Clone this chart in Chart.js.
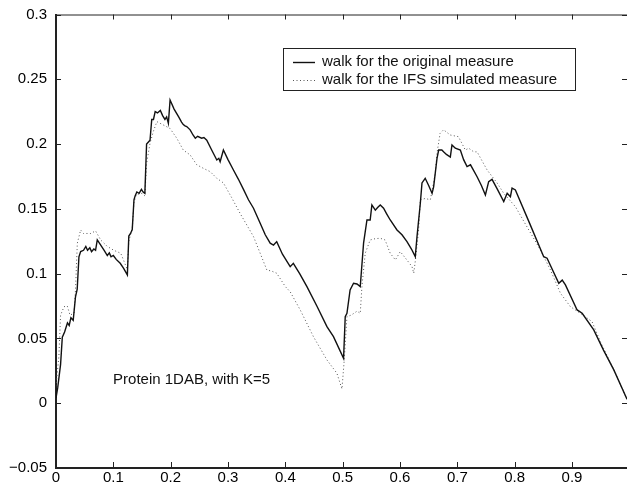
<!DOCTYPE html>
<html>
<head>
<meta charset="utf-8">
<script src="https://cdn.jsdelivr.net/npm/chart.js@4"></script>
<style>
  html, body { margin: 0; padding: 0; background: #fff; }
  canvas { display: block; }
</style>
</head>
<body>
<canvas id="walkChart" width="627" height="486"></canvas>
<script>
// walk for the original measure
const xOrig = [0.000, 0.003, 0.008, 0.011, 0.015, 0.020, 0.023, 0.026, 0.030, 0.034, 0.037, 0.040, 0.043, 0.048, 0.052, 0.055, 0.059, 0.062, 0.066, 0.069,
  0.072, 0.078, 0.084, 0.0895, 0.093, 0.096, 0.100, 0.105, 0.112, 0.118, 0.1245, 0.127, 0.130, 0.133, 0.136, 0.138, 0.141, 0.145, 0.149, 0.152,
  0.155, 0.158, 0.162, 0.164, 0.167, 0.170, 0.173, 0.177, 0.182, 0.186, 0.190, 0.193, 0.196, 0.199, 0.206, 0.214, 0.219, 0.222, 0.225, 0.228,
  0.234, 0.239, 0.243, 0.247, 0.254, 0.258, 0.263, 0.272, 0.2805, 0.284, 0.2863, 0.292, 0.300, 0.3095, 0.318, 0.327, 0.3357, 0.3445, 0.355, 0.365,
  0.3736, 0.3794, 0.385, 0.395, 0.4085, 0.414, 0.425, 0.4377, 0.455, 0.4726, 0.484, 0.5016, 0.5045, 0.5075, 0.513, 0.519, 0.525, 0.5307, 0.5365, 0.5424,
  0.548, 0.551, 0.557, 0.561, 0.5656, 0.5714, 0.577, 0.583, 0.5948, 0.6035, 0.6122, 0.620, 0.6267, 0.6297, 0.6355, 0.6384, 0.644, 0.650, 0.656, 0.6587,
  0.6646, 0.6675, 0.673, 0.676, 0.681, 0.6878, 0.6907, 0.6965, 0.7053, 0.711, 0.717, 0.723, 0.7345, 0.742, 0.749, 0.7547, 0.7606, 0.770, 0.781, 0.787,
  0.7926, 0.7955, 0.8013, 0.826, 0.8507, 0.8566, 0.877, 0.883, 0.8886, 0.909, 0.9178, 0.938, 0.955, 0.973, 0.996];
const yOrig = [0.004, 0.012, 0.030, 0.051, 0.055, 0.062, 0.060, 0.066, 0.064, 0.082, 0.088, 0.113, 0.117, 0.118, 0.121, 0.118, 0.120, 0.117, 0.119, 0.118,
  0.126, 0.122, 0.118, 0.114, 0.116, 0.113, 0.114, 0.111, 0.108, 0.104, 0.099, 0.129, 0.131, 0.134, 0.157, 0.160, 0.163, 0.162, 0.165, 0.163,
  0.162, 0.200, 0.202, 0.203, 0.219, 0.219, 0.225, 0.224, 0.226, 0.222, 0.219, 0.221, 0.216, 0.234, 0.227, 0.221, 0.217, 0.215, 0.214, 0.2135,
  0.211, 0.207, 0.2045, 0.206, 0.2045, 0.205, 0.203, 0.195, 0.1877, 0.189, 0.1864, 0.1954, 0.188, 0.180, 0.173, 0.165, 0.157, 0.1505, 0.140, 0.130,
  0.1235, 0.1221, 0.1247, 0.115, 0.1054, 0.108, 0.100, 0.090, 0.075, 0.0591, 0.0514, 0.0347, 0.0668, 0.0694, 0.0874, 0.0926, 0.092, 0.090, 0.1235, 0.1414,
  0.1414, 0.153, 0.149, 0.151, 0.153, 0.1505, 0.146, 0.1414, 0.1337, 0.130, 0.1247, 0.119, 0.1131, 0.1286, 0.1543, 0.170, 0.1736, 0.168, 0.162, 0.167,
  0.189, 0.1954, 0.1954, 0.194, 0.192, 0.190, 0.1993, 0.1968, 0.1954, 0.188, 0.1826, 0.184, 0.1748, 0.168, 0.1607, 0.171, 0.1728, 0.165, 0.1556, 0.162,
  0.1594, 0.166, 0.1646, 0.139, 0.1131, 0.1119, 0.0926, 0.095, 0.0913, 0.072, 0.0694, 0.0566, 0.041, 0.0257, 0.003];

// walk for the IFS simulated measure
const xIfs = [0.000, 0.005, 0.008, 0.014, 0.0197, 0.0244, 0.0314, 0.034, 0.0372, 0.043, 0.048, 0.052, 0.0606, 0.069, 0.078, 0.0895, 0.101, 0.113, 0.1245, 0.127,
  0.133, 0.136, 0.140, 0.150, 0.155, 0.158, 0.164, 0.170, 0.176, 0.187, 0.199, 0.2107, 0.222, 0.234, 0.2456, 0.257, 0.269, 0.2805, 0.292, 0.306,
  0.321, 0.3445, 0.3678, 0.376, 0.385, 0.400, 0.4085, 0.426, 0.449, 0.4726, 0.490, 0.4988, 0.5028, 0.5075, 0.515, 0.525, 0.5307, 0.5336, 0.5394, 0.548,
  0.557, 0.5656, 0.574, 0.583, 0.592, 0.6005, 0.612, 0.621, 0.624, 0.627, 0.6325, 0.6355, 0.644, 0.653, 0.6617, 0.6646, 0.670, 0.676, 0.6878, 0.702,
  0.714, 0.720, 0.7286, 0.7345, 0.752, 0.7694, 0.781, 0.8013, 0.823, 0.845, 0.8624, 0.8799, 0.8973, 0.9148, 0.935, 0.950, 0.973, 0.996];
const yIfs = [0.013, 0.036, 0.068, 0.0745, 0.075, 0.068, 0.0694, 0.0874, 0.1235, 0.1337, 0.131, 0.131, 0.131, 0.133, 0.126, 0.121, 0.118, 0.1157, 0.103, 0.125,
  0.135, 0.155, 0.161, 0.162, 0.160, 0.185, 0.2006, 0.210, 0.2173, 0.2148, 0.212, 0.2045, 0.1954, 0.1916, 0.184, 0.1813, 0.1787, 0.1736, 0.170, 0.159,
  0.1466, 0.1286, 0.1028, 0.102, 0.1003, 0.090, 0.086, 0.072, 0.0514, 0.0334, 0.0231, 0.011, 0.0334, 0.0668, 0.068, 0.071, 0.0694, 0.090, 0.1157, 0.126,
  0.127, 0.1273, 0.126, 0.1157, 0.1106, 0.117, 0.1106, 0.1054, 0.1003, 0.1106, 0.1337, 0.157, 0.158, 0.157, 0.1775, 0.193, 0.2083, 0.211, 0.207, 0.2057,
  0.1954, 0.1968, 0.194, 0.194, 0.180, 0.170, 0.162, 0.1517, 0.135, 0.1183, 0.1029, 0.0849, 0.0745, 0.0694, 0.063, 0.047, 0.026, 0.003];

const xTickValues = [0, 0.1, 0.2, 0.3, 0.4, 0.5, 0.6, 0.7, 0.8, 0.9];
const xTickLabels = ['0', '0.1', '0.2', '0.3', '0.4', '0.5', '0.6', '0.7', '0.8', '0.9'];
const yTickValues = [-0.05, 0, 0.05, 0.1, 0.15, 0.2, 0.25, 0.3];
const yTickLabels = ['\u22120.05', '0', '0.05', '0.1', '0.15', '0.2', '0.25', '0.3'];

const annotation = { x: 0.0995, y: 0.018, text: 'Protein 1DAB, with K=5' };

const FONT = '"Liberation Sans", Arial, Helvetica, sans-serif';

function toPoints(xs, ys) {
  return xs.map((x, i) => ({ x: x, y: ys[i] }));
}

// fix the plot frame to the reference position
const frame = {
  id: 'frame',
  afterLayout(chart) {
    const a = chart.chartArea;
    a.top = 14.5;
    a.height = a.bottom - a.top;
    const ys = chart.scales.y;
    ys.top = 14.5;
    ys.height = ys.bottom - ys.top;
    ys.configure();
  }
};

// inward ticks on all four sides, top border, text annotation and boxed legend
const decorations = {
  id: 'decorations',
  afterDraw(chart) {
    const ctx = chart.ctx;
    const a = chart.chartArea;
    const xs = chart.scales.x, ys = chart.scales.y;
    ctx.save();
    ctx.strokeStyle = '#222';
    ctx.lineWidth = 1;
    ctx.beginPath();
    ctx.moveTo(a.left, a.top + 0.5);
    ctx.lineTo(a.right, a.top + 0.5);
    xTickValues.forEach(v => {
      const px = Math.round(xs.getPixelForValue(v)) + 0.5;
      ctx.moveTo(px, a.bottom); ctx.lineTo(px, a.bottom - 6);
      ctx.moveTo(px, a.top); ctx.lineTo(px, a.top + 5);
    });
    yTickValues.forEach(v => {
      const py = Math.round(ys.getPixelForValue(v)) + 0.5;
      ctx.moveTo(a.left, py); ctx.lineTo(a.left + 5, py);
      ctx.moveTo(a.right, py); ctx.lineTo(a.right - 5, py);
    });
    ctx.stroke();

    // annotation
    ctx.fillStyle = '#111';
    ctx.font = '15px ' + FONT;
    ctx.textAlign = 'left';
    ctx.textBaseline = 'middle';
    ctx.fillText(annotation.text, xs.getPixelForValue(annotation.x), ys.getPixelForValue(annotation.y));

    // legend
    const box = { left: 283.5, top: 48.5, right: 575.5, bottom: 90.5 };
    ctx.fillStyle = '#fff';
    ctx.fillRect(box.left, box.top, box.right - box.left, box.bottom - box.top);
    ctx.strokeStyle = '#222';
    ctx.lineWidth = 1;
    ctx.strokeRect(box.left, box.top, box.right - box.left, box.bottom - box.top);
    const rows = [62, 80];
    chart.data.datasets.forEach((ds, i) => {
      const y = rows[i];
      ctx.beginPath();
      ctx.strokeStyle = ds.borderColor;
      ctx.lineWidth = ds.borderWidth;
      ctx.setLineDash(ds.borderDash || []);
      ctx.moveTo(293, y + 0.5);
      ctx.lineTo(315, y + 0.5);
      ctx.stroke();
      ctx.setLineDash([]);
      ctx.fillStyle = '#111';
      ctx.fillText(ds.label, 322, y);
    });
    ctx.restore();
  }
};

new Chart(document.getElementById('walkChart'), {
  type: 'line',
  data: {
    datasets: [{
      label: 'walk for the original measure',
      data: toPoints(xOrig, yOrig),
      borderColor: '#111',
      borderWidth: 1.4,
      pointRadius: 0,
      tension: 0
    },
    {
      label: 'walk for the IFS simulated measure',
      data: toPoints(xIfs, yIfs),
      borderColor: '#555',
      borderWidth: 1,
      borderDash: [1, 2.5],
      pointRadius: 0,
      tension: 0
    }]
  },
  options: {
    responsive: false,
    animation: false,
    devicePixelRatio: 1,
    layout: { padding: { top: 14.5, right: 0, left: 0, bottom: 0 } },
    plugins: {
      legend: { display: false },
      tooltip: { enabled: false }
    },
    scales: {
      x: {
        type: 'linear',
        min: 0,
        max: 0.996,
        afterBuildTicks: s => { s.ticks = xTickValues.map(v => ({ value: v })); },
        afterFit: s => { s.height = 18; },
        grid: { display: false, drawTicks: false },
        border: { display: true, color: '#222', width: 2 },
        ticks: {
          padding: 1,
          color: '#000',
          font: { family: FONT, size: 15 },
          callback: (v, i) => xTickLabels[i]
        }
      },
      y: {
        type: 'linear',
        min: -0.05,
        max: 0.3,
        afterBuildTicks: s => { s.ticks = yTickValues.map(v => ({ value: v })); },
        afterFit: s => { s.width = 56; },
        grid: { display: false, drawTicks: false },
        border: { display: true, color: '#222', width: 2 },
        ticks: {
          padding: 9,
          color: '#000',
          font: { family: FONT, size: 15 },
          callback: (v, i) => yTickLabels[i]
        }
      }
    }
  },
  plugins: [frame, decorations]
});
</script>
</body>
</html>
